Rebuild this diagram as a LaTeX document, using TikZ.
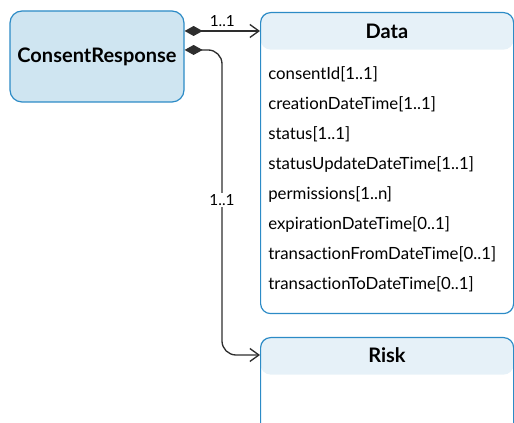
\documentclass[tikz,border=0pt]{standalone}
\usepackage{fontspec}
\setmainfont[Ligatures=NoCommon]{Lato}
\usetikzlibrary{arrows.meta}
\usetikzlibrary{positioning}
\definecolor{boxline}{HTML}{2C8BC6}
\definecolor{rootfill}{HTML}{CFE5F1}
\definecolor{headfill}{HTML}{E6F1F8}
\definecolor{linegray}{HTML}{2E2E2E}
\newcommand{\pxu}{0.75pt}

\tikzset{
  classbox/.style={draw=boxline, line width=0.9pt, rounded corners=10*\pxu,
    anchor=north west, inner sep=0pt, minimum width=253*\pxu,
    path picture={\fill[headfill] (path picture bounding box.north west)
      rectangle ([yshift=-37*\pxu]path picture bounding box.north east);}},
  root/.style={draw=boxline, fill=rootfill, line width=0.9pt, rounded corners=12*\pxu,
    minimum width=174*\pxu, minimum height=91*\pxu, font=\fontsize{15}{17}\selectfont\bfseries},
  title/.style={font=\fontsize{15}{17}\selectfont\bfseries},
  attr/.style={anchor=west, inner sep=0pt, font=\fontsize{12.6}{14}\selectfont},
  mult/.style={font=\fontsize{11.5}{13}\selectfont},
  link/.style={draw=linegray, line width=1pt,
    {Diamond[length=13.5pt, width=7.5pt]}-{Straight Barb[length=6.75pt, width=9.75pt]}}
}

\begin{document}
\begin{tikzpicture}[x=\pxu, y=-\pxu]
  \clip (0, 0) rectangle (514, 423);

  \node [root] (cr) at (97, 56.5) {ConsentResponse};

  \node [classbox, minimum height=301*\pxu] (data) at (260, 12) {};
  \node [title] (dtitle) at (387, 31) {Data};
  \foreach \attr [count=\i] in {{consentId[1..1]}, {creationDateTime[1..1]},
      {status[1..1]}, {statusUpdateDateTime[1..1]}, {permissions[1..n]},
      {expirationDateTime[0..1]}, {transactionFromDateTime[0..1]},
      {transactionToDateTime[0..1]}}
    \node [attr] (a\i) at (268, 44.5 + 30*\i) {\attr};

  \node [classbox, minimum height=110*\pxu] (risk) at (260, 337) {};
  \node [title] (rtitle) at (387, 355) {Risk};

  \draw [link] (cr.east |- dtitle) -- (data.west |- dtitle)
    node [mult, pos=0.5, above, yshift=-0.5pt] {1..1};
  \coordinate (card) at (222, 200);
  \draw [link, rounded corners=14*\pxu] ([yshift=4.9pt]cr.east) -| (card)
    |- (risk.west |- rtitle);
  \node [mult, fill=white, inner sep=1pt] (cardlabel) at (card) {1..1};
\end{tikzpicture}
\end{document}
